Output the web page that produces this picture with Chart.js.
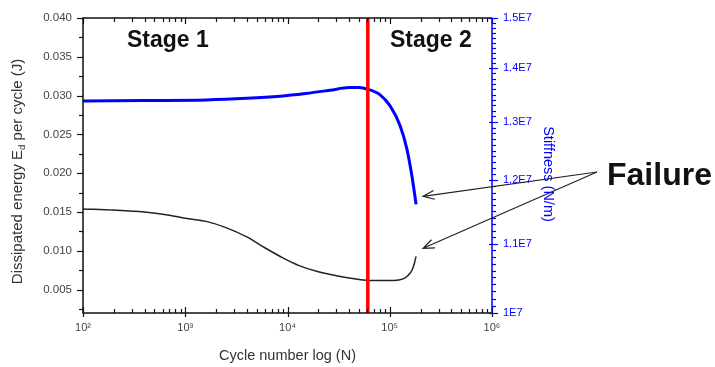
<!DOCTYPE html>
<html>
<head>
<meta charset="utf-8">
<script src="https://cdn.jsdelivr.net/npm/chart.js@4.4.1/dist/chart.umd.min.js"></script>
<style>
  html, body { margin: 0; padding: 0; background: #fff; }
  #wrap { width: 715px; height: 367px; position: relative; }
</style>
</head>
<body>
<div id="wrap"><canvas id="fatigue"></canvas></div>
<script>
// dissipated energy per cycle (J) against cycle count
var energyCycles = [100, 200, 400, 700, 1000, 1600, 2500, 4000, 6000, 9000, 13000, 20000, 30000, 45000, 61000, 80000, 110000, 135000, 150000, 165000, 175000, 181000];
var energyValues = [0.0154, 0.01525, 0.0150, 0.0146, 0.0142, 0.0138, 0.0130, 0.0118, 0.0104, 0.0091, 0.0081, 0.0073, 0.0068, 0.0064, 0.0062, 0.0062, 0.0062, 0.0064, 0.0068, 0.0075, 0.0085, 0.0093];

// stiffness (N/m) against cycle count
var stiffCycles = [100, 400, 1600, 4000, 8500, 15000, 26000, 40000, 50000, 61000, 80000, 100000, 126000, 147000, 164000, 181000];
var stiffValues = [1.338e7, 1.339e7, 1.340e7, 1.343e7, 1.347e7, 1.352e7, 1.358e7, 1.363e7, 1.363e7, 1.360e7, 1.350e7, 1.330e7, 1.294e7, 1.253e7, 1.209e7, 1.161e7];

// boundary between stage 1 and stage 2
var stageCycle = 61000;

var energyMin = 0.002, energyMax = 0.040;
var energyTicks = [0.005, 0.010, 0.015, 0.020, 0.025, 0.030, 0.035, 0.040];
var stiffMin = 1e7, stiffMax = 1.5e7;
var stiffTicks = [1e7, 1.1e7, 1.2e7, 1.3e7, 1.4e7, 1.5e7];
var stiffTickLabels = ['1E7', '1.1E7', '1.2E7', '1.3E7', '1.4E7', '1.5E7'];
var cycleTicks = [1e2, 1e3, 1e4, 1e5, 1e6];
var cycleTickLabels = ['10\u00B2', '10\u00B3', '10\u2074', '10\u2075', '10\u2076'];

var FONT = '"Liberation Sans", Arial, sans-serif';
var BLUE = '#0000ff';

function pairs(xs, ys) {
    return xs.map(function(x, i) { return { x: x, y: ys[i] }; });
}

function setTicks(values) {
    return function(scale) {
        scale.ticks = values.map(function(v) { return { value: v }; });
    };
}

function arrow(ctx, x0, y0, x1, y1) {
    var ang = Math.atan2(y1 - y0, x1 - x0), len = 12, spread = 0.38;
    ctx.beginPath();
    ctx.moveTo(x0, y0);
    ctx.lineTo(x1, y1);
    ctx.moveTo(x1 - len * Math.cos(ang - spread), y1 - len * Math.sin(ang - spread));
    ctx.lineTo(x1, y1);
    ctx.lineTo(x1 - len * Math.cos(ang + spread), y1 - len * Math.sin(ang + spread));
    ctx.stroke();
}

// axis frame, tick marks, axis titles and the text labels
var decorations = {
    id: 'decorations',
    afterDraw: function(chart) {
        var ctx = chart.ctx, a = chart.chartArea;
        var sx = chart.scales.x, sy = chart.scales.y, sy2 = chart.scales.y2;
        ctx.save();

        // frame
        ctx.lineWidth = 1.5;
        ctx.strokeStyle = '#111';
        ctx.beginPath();
        ctx.moveTo(a.right, a.top); ctx.lineTo(a.left, a.top);
        ctx.lineTo(a.left, a.bottom); ctx.lineTo(a.right, a.bottom);
        ctx.stroke();

        // x ticks, bottom and top
        ctx.lineWidth = 1.2;
        for (var d = 2; d <= 6; d++) {
            for (var m = 1; m <= 9; m++) {
                if (d == 6 && m > 1) break;
                var px = Math.round(sx.getPixelForValue(m * Math.pow(10, d))) + 0.5;
                var major = (m == 1);
                ctx.beginPath();
                ctx.moveTo(px, a.bottom + (major ? 4 : 0));
                ctx.lineTo(px, a.bottom - (major ? 6 : 4));
                ctx.moveTo(px, a.top);
                ctx.lineTo(px, a.top + (major ? 6 : 4));
                ctx.stroke();
            }
        }

        // left ticks
        for (var k = 1; k <= 16; k++) {
            var v = k * 0.0025;
            var py = Math.round(sy.getPixelForValue(v)) + 0.5;
            ctx.beginPath();
            ctx.moveTo(a.left, py);
            ctx.lineTo(a.left - (k % 2 == 0 ? 6 : 4), py);
            ctx.stroke();
        }

        // right axis in blue
        ctx.strokeStyle = BLUE;
        ctx.lineWidth = 1.5;
        ctx.beginPath();
        ctx.moveTo(a.right, a.top); ctx.lineTo(a.right, a.bottom);
        ctx.stroke();
        ctx.lineWidth = 1.2;
        for (var j = 0; j <= 50; j++) {
            var s = 1e7 + j * 1e5;
            var qy = Math.round(sy2.getPixelForValue(s)) + 0.5;
            ctx.beginPath();
            ctx.moveTo(a.right - (j % 10 == 0 ? 3 : 0), qy);
            ctx.lineTo(a.right + (j % 10 == 0 ? 6 : 4), qy);
            ctx.stroke();
        }

        // axis titles
        ctx.fillStyle = '#333';
        ctx.textAlign = 'center';
        ctx.textBaseline = 'middle';
        ctx.font = '14.5px ' + FONT;
        ctx.fillText('Cycle number log (N)', (a.left + a.right) / 2, 356);

        ctx.save();
        ctx.translate(18, (a.top + a.bottom) / 2 + 6);
        ctx.rotate(-Math.PI / 2);
        var big = '15px ' + FONT, small = '9.5px ' + FONT;
        var p1 = 'Dissipated energy E', sub = 'd', p2 = ' per cycle (J)';
        ctx.font = big;
        var w1 = ctx.measureText(p1).width, w3 = ctx.measureText(p2).width;
        ctx.font = small;
        var w2 = ctx.measureText(sub).width;
        var x0 = -(w1 + w2 + w3) / 2;
        ctx.textAlign = 'left';
        ctx.font = big; ctx.fillText(p1, x0, 0);
        ctx.font = small; ctx.fillText(sub, x0 + w1, 4);
        ctx.font = big; ctx.fillText(p2, x0 + w1 + w2, 0);
        ctx.restore();

        ctx.save();
        ctx.translate(548, 174);
        ctx.rotate(Math.PI / 2);
        ctx.fillStyle = BLUE;
        ctx.font = '14.5px ' + FONT;
        ctx.fillText('Stiffness (N/m)', 0, 0);
        ctx.restore();

        // stage labels
        ctx.fillStyle = '#111';
        ctx.font = 'bold 23px ' + FONT;
        ctx.textAlign = 'left';
        ctx.fillText('Stage 1', 127, 41);
        ctx.fillText('Stage 2', 390, 41);

        // failure label and arrows to the end of both curves
        ctx.font = 'bold 32px ' + FONT;
        ctx.fillText('Failure', 607, 176);
        var stiffEnd = stiffCycles.length - 1, energyEnd = energyCycles.length - 1;
        var bx = sx.getPixelForValue(stiffCycles[stiffEnd]), by = sy2.getPixelForValue(stiffValues[stiffEnd]);
        var kx = sx.getPixelForValue(energyCycles[energyEnd]), ky = sy.getPixelForValue(energyValues[energyEnd]);
        ctx.strokeStyle = '#222';
        ctx.lineWidth = 1.2;
        arrow(ctx, 597, 172, bx + 7, by - 8);
        arrow(ctx, 597, 172, kx + 7, ky - 8);

        ctx.restore();
    }
};

var ctx = document.getElementById('fatigue').getContext('2d');
var chart = new Chart(ctx, {
    type: 'line',
    data: {
        datasets: [{
            label: 'Stage boundary',
            data: [{ x: stageCycle, y: energyMin }, { x: stageCycle, y: energyMax }],
            yAxisID: 'y',
            borderColor: '#ff0000',
            borderWidth: 3.5,
            pointRadius: 0,
            fill: false
        }, {
            label: 'Stiffness',
            data: pairs(stiffCycles, stiffValues),
            yAxisID: 'y2',
            borderColor: BLUE,
            borderWidth: 3,
            pointRadius: 0,
            cubicInterpolationMode: 'monotone',
            fill: false
        }, {
            label: 'Dissipated energy',
            data: pairs(energyCycles, energyValues),
            yAxisID: 'y',
            borderColor: '#222',
            borderWidth: 1.5,
            pointRadius: 0,
            cubicInterpolationMode: 'monotone',
            fill: false
        }]
    },
    options: {
        responsive: true,
        maintainAspectRatio: false,
        animation: false,
        devicePixelRatio: 1,
        layout: { padding: { top: 14, left: 0, right: 0, bottom: 0 } },
        plugins: { legend: { display: false }, tooltip: { enabled: false } },
        scales: {
            x: {
                type: 'logarithmic',
                min: 1e2, max: 1e6,
                grid: { display: false, drawTicks: false },
                border: { display: false },
                afterBuildTicks: setTicks(cycleTicks),
                afterFit: function(scale) { scale.height = 54; },
                ticks: {
                    autoSkip: false, maxRotation: 0, padding: 8,
                    color: '#444', font: { size: 11, family: FONT },
                    callback: function(v) {
                        var i = cycleTicks.indexOf(v);
                        return i >= 0 ? cycleTickLabels[i] : '';
                    }
                }
            },
            y: {
                type: 'linear',
                position: 'left',
                min: energyMin, max: energyMax,
                grid: { display: false, drawTicks: false },
                border: { display: false },
                afterBuildTicks: setTicks(energyTicks),
                afterFit: function(scale) { scale.width = 83; },
                ticks: {
                    autoSkip: false, padding: 11,
                    color: '#444', font: { size: 11.5, family: FONT },
                    callback: function(v) { return v.toFixed(3); }
                }
            },
            y2: {
                type: 'logarithmic',
                position: 'right',
                min: stiffMin, max: stiffMax,
                grid: { display: false, drawTicks: false },
                border: { display: false },
                afterBuildTicks: setTicks(stiffTicks),
                afterFit: function(scale) { scale.width = 223; },
                ticks: {
                    autoSkip: false, padding: 11,
                    color: BLUE, font: { size: 11, family: FONT },
                    callback: function(v) {
                        var i = stiffTicks.indexOf(v);
                        return i >= 0 ? stiffTickLabels[i] : '';
                    }
                }
            }
        }
    },
    plugins: [decorations]
});
</script>
</body>
</html>
